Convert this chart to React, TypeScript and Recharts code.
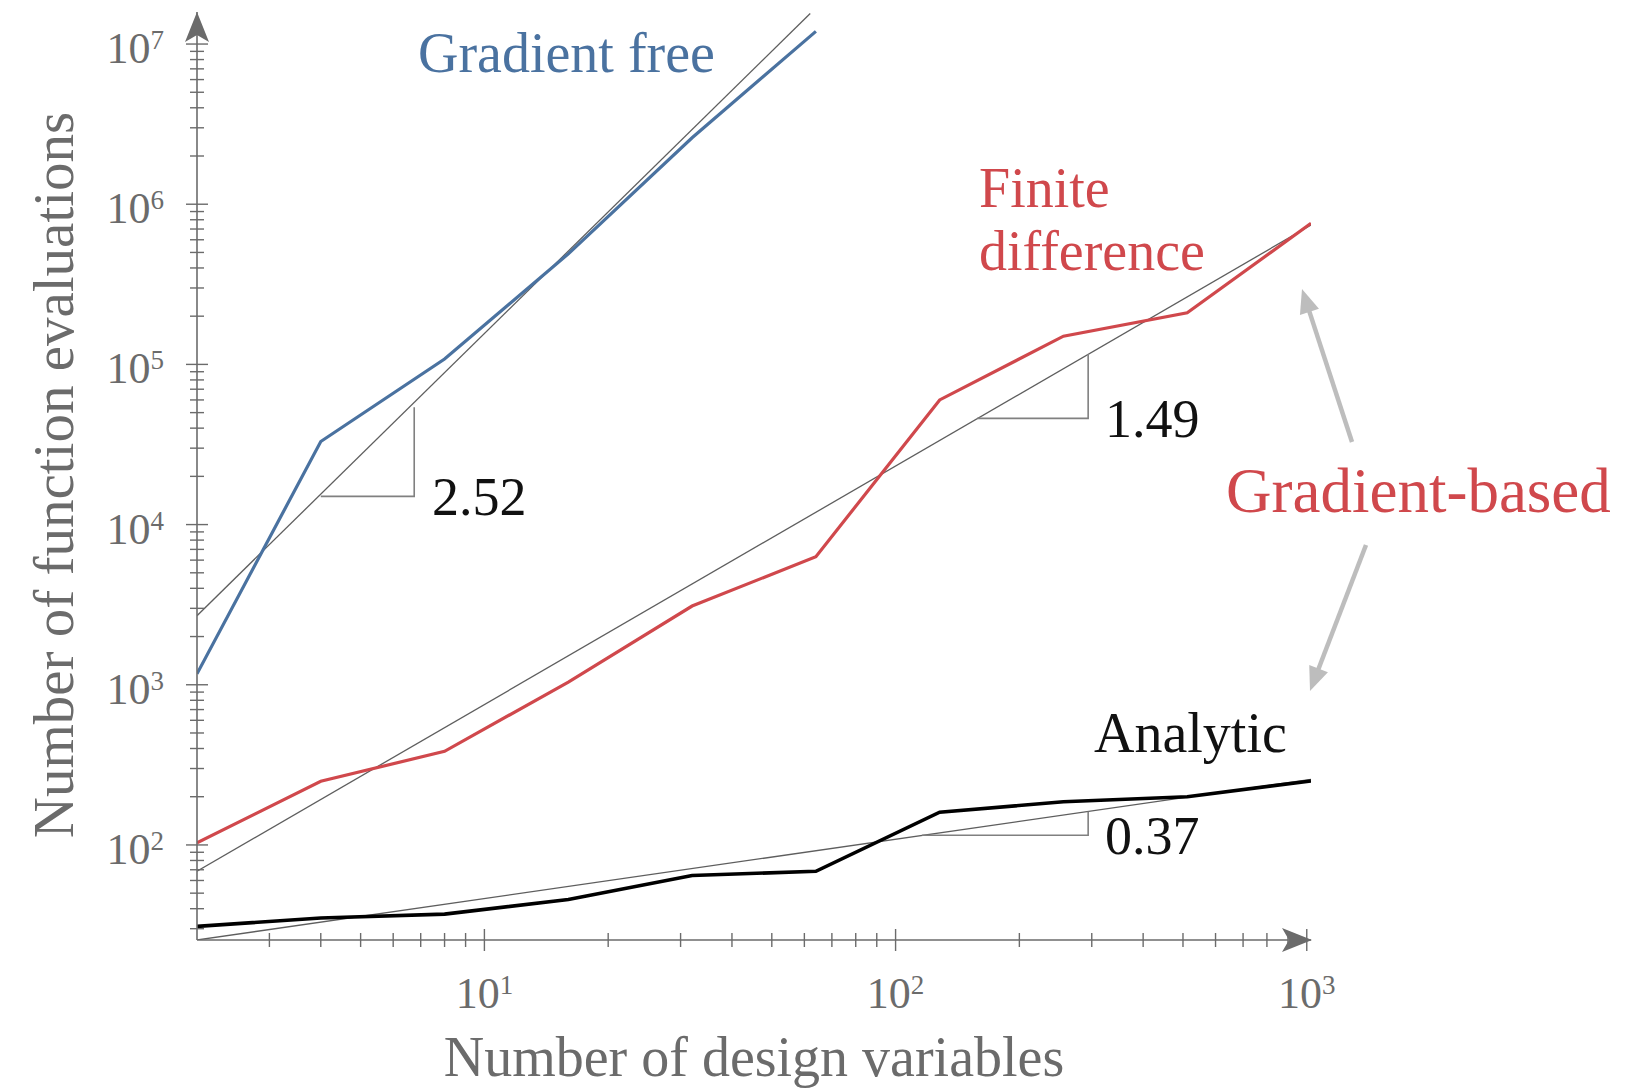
import React from 'react';
import { LineChart, Line, XAxis, YAxis } from 'recharts';

// Scaling of optimizer cost with number of design variables (log-log)
const designVars = [2, 4, 8, 16, 32, 64, 128, 256, 512, 1024];
const gradientFree = [1170, 33000, 108000, 490000, 2600000, 12000000];
const finiteDifference = [103, 250, 384, 1040, 3100, 6300, 60000, 150000, 210000, 760000];
const analytic = [31, 35, 37, 45.6, 64.5, 68.5, 160, 186, 200, 251];

// power-law fits, as [n, evaluations] end points
const gradientFreeFit = [[2, 2700], [62, 15500000]];
const finiteDifferenceFit = [[2, 68.5], [1024, 741000]];
const analyticFit = [[2, 25.5], [1024, 257]];

// slope triangles: [nStart, nEnd, yBase, yTop]
const slopeTriangles = [
  [4, 6.75, 15000, 54000],
  [158, 294, 46000, 116000],
  [116, 294, 115, 162],
];
const slopeLabels = ['2.52', '1.49', '0.37'];

const xTicks = [3, 4, 5, 6, 7, 8, 9, 10, 20, 30, 40, 50, 60, 70, 80, 90, 100, 200, 300, 400, 500, 600, 700, 800, 900, 1000];
const yTicks = [30, 40, 50, 60, 70, 80, 90];
for (let d = 2; d < 7; d++) {
  for (let k = 1; k < 10; k++) yTicks.push(k * Math.pow(10, d));
}
yTicks.push(1e7);

const BLUE = '#4a72a0';
const RED = '#d0484c';
const AXIS = '#6b6b6b';
const FIT = '#5e5e5e';
const ARROW = '#bdbdbd';
const FONT = '"Liberation Serif", "DejaVu Serif", serif';

const rows = designVars.map((n, i) => ({
  n,
  free: gradientFree[i],
  fd: finiteDifference[i],
  an: analytic[i],
}));
const toRows = (pts: number[][]) => pts.map(([n, v]) => ({ n, v }));
const triRows = (t: number[]) => [
  { n: t[0], v: t[2] },
  { n: t[1], v: t[2] },
  { n: t[1], v: t[3] },
];

const exponent = (v: number) => Math.round(Math.log10(v));
const isDecade = (v: number) => Math.abs(Math.log10(v) - exponent(v)) < 1e-9;

const PowerLabel = ({ x, y, v, anchor }: { x: number; y: number; v: number; anchor: 'middle' | 'end' }) => (
  <text x={x} y={y} textAnchor={anchor} fill={AXIS} fontSize={44} fontFamily={FONT}>
    10<tspan fontSize={27} dy={-14}>{exponent(v)}</tspan>
  </text>
);

const XTick = (props: any) => {
  const { x, y, payload } = props;
  const major = isDecade(payload.value);
  const len = major ? 11 : 7;
  return (
    <g>
      <line x1={x} x2={x} y1={y - len} y2={y + len} stroke={AXIS} strokeWidth={1.4} />
      {major && <PowerLabel x={x} y={y + 68} v={payload.value} anchor="middle" />}
    </g>
  );
};

const YTick = (props: any) => {
  const { x, y, payload } = props;
  const major = isDecade(payload.value);
  const len = major ? 11 : 7;
  return (
    <g>
      <line x1={x - len} x2={x + len} y1={y} y2={y} stroke={AXIS} strokeWidth={1.4} />
      {major && <PowerLabel x={x - 33} y={y + 19} v={payload.value} anchor="end" />}
    </g>
  );
};

// arrowhead polygon for the annotation arrows
const arrowHead = (x1: number, y1: number, x2: number, y2: number, len: number, half: number) => {
  const dx = x2 - x1;
  const dy = y2 - y1;
  const d = Math.hypot(dx, dy);
  const ux = dx / d;
  const uy = dy / d;
  const bx = x2 - ux * len;
  const by = y2 - uy * len;
  return `${x2},${y2} ${bx - uy * half},${by + ux * half} ${bx + uy * half},${by - ux * half}`;
};

const Arrow = ({ x1, y1, x2, y2 }: { x1: number; y1: number; x2: number; y2: number }) => {
  const d = Math.hypot(x2 - x1, y2 - y1);
  const ex = x2 - ((x2 - x1) / d) * 18;
  const ey = y2 - ((y2 - y1) / d) * 18;
  return (
    <g>
      <line x1={x1} y1={y1} x2={ex} y2={ey} stroke={ARROW} strokeWidth={4.5} />
      <polygon points={arrowHead(x1, y1, x2, y2, 24, 10)} fill={ARROW} />
    </g>
  );
};

const App: React.FC = () => {
  return (
    <div style={{ position: 'relative', width: 1650, height: 1092, background: '#fff' }}>
      <style>{'body{margin:0}'}</style>
      <LineChart
        width={1650}
        height={1092}
        data={rows}
        margin={{ top: 12, right: 339, bottom: 92, left: 137 }}
      >
        <XAxis
          dataKey="n"
          type="number"
          scale="log"
          domain={[2, 1024]}
          ticks={xTicks}
          interval={0}
          allowDataOverflow
          height={60}
          tickLine={false}
          tickSize={0}
          tickMargin={0}
          axisLine={{ stroke: AXIS, strokeWidth: 1.6 }}
          tick={XTick}
        />
        <YAxis
          type="number"
          scale="log"
          domain={[25.5, 15850000]}
          ticks={yTicks}
          interval={0}
          allowDataOverflow
          width={60}
          tickLine={false}
          tickSize={0}
          tickMargin={0}
          axisLine={{ stroke: AXIS, strokeWidth: 1.6 }}
          tick={YTick}
        />
        <Line data={toRows(gradientFreeFit)} dataKey="v" stroke={FIT} strokeWidth={1.3} dot={false} isAnimationActive={false} />
        <Line data={toRows(finiteDifferenceFit)} dataKey="v" stroke={FIT} strokeWidth={1.3} dot={false} isAnimationActive={false} />
        <Line data={toRows(analyticFit)} dataKey="v" stroke={FIT} strokeWidth={1.3} dot={false} isAnimationActive={false} />
        {slopeTriangles.map((t, i) => (
          <Line key={i} data={triRows(t)} dataKey="v" stroke="#808080" strokeWidth={1.6} dot={false} isAnimationActive={false} />
        ))}
        <Line dataKey="free" stroke={BLUE} strokeWidth={3.2} dot={false} isAnimationActive={false} />
        <Line dataKey="fd" stroke={RED} strokeWidth={3.2} dot={false} isAnimationActive={false} />
        <Line dataKey="an" stroke="#000" strokeWidth={3.6} dot={false} isAnimationActive={false} />
      </LineChart>
      <svg
        width={1650}
        height={1092}
        style={{ position: 'absolute', left: 0, top: 0, pointerEvents: 'none' }}
        fontFamily={FONT}
      >
        {/* axis arrowheads */}
        <path d="M1312,940 L1282,928 L1289,940 L1282,952 Z" fill={AXIS} />
        <path d="M197,12 L185,42 L197,35 L209,42 Z" fill={AXIS} />

        <text x={418} y={72} fill={BLUE} fontSize={56}>Gradient free</text>
        <text x={979} y={207} fill={RED} fontSize={56}>Finite</text>
        <text x={979} y={270} fill={RED} fontSize={56}>difference</text>
        <text x={1226} y={512} fill={RED} fontSize={63}>Gradient-based</text>
        <text x={1094} y={752} fill="#111" fontSize={56}>Analytic</text>
        <text x={432} y={515} fill="#111" fontSize={54}>{slopeLabels[0]}</text>
        <text x={1105} y={437} fill="#111" fontSize={54}>{slopeLabels[1]}</text>
        <text x={1105} y={854} fill="#111" fontSize={54}>{slopeLabels[2]}</text>

        <Arrow x1={1352} y1={442} x2={1302} y2={289} />
        <Arrow x1={1366} y1={545} x2={1310} y2={691} />

        <text x={754} y={1076} textAnchor="middle" fill={AXIS} fontSize={56}>Number of design variables</text>
        <text
          x={0}
          y={0}
          transform="translate(73,475) rotate(-90)"
          textAnchor="middle"
          fill={AXIS}
          fontSize={57}
        >
          Number of function evaluations
        </text>
      </svg>
    </div>
  );
};

export default App;
